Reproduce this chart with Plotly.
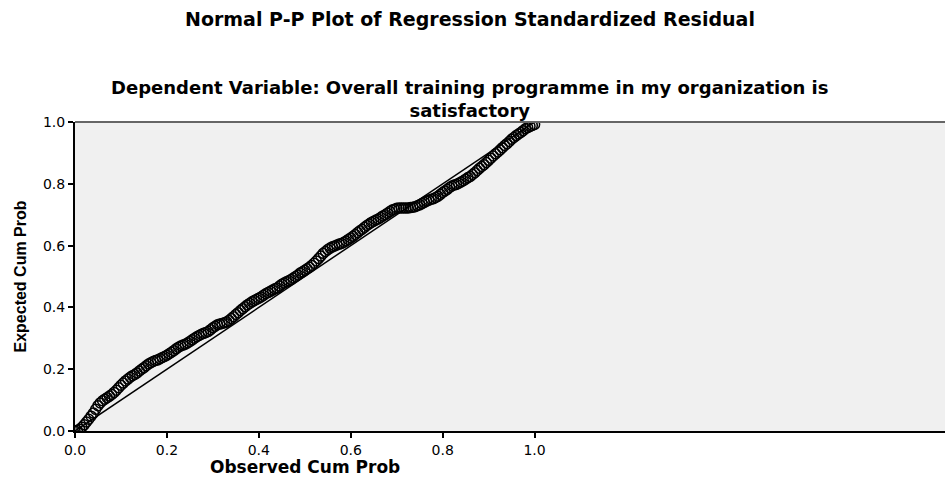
import plotly.graph_objects as go

# Observed cumulative probability (x) and expected cumulative probability (y)
observed_a = [
    0.00, 0.01, 0.02, 0.03, 0.04, 0.05, 0.06, 0.07, 0.08, 0.09,
    0.10, 0.11, 0.12, 0.13, 0.14, 0.15, 0.16, 0.17, 0.18, 0.19,
    0.20, 0.21, 0.22, 0.23, 0.24, 0.25, 0.26, 0.27, 0.28, 0.29,
    0.30, 0.31, 0.32, 0.33, 0.34, 0.35, 0.36, 0.37, 0.38, 0.39,
    0.40, 0.41, 0.42, 0.43, 0.44, 0.45, 0.46, 0.47, 0.48, 0.49,
    0.50, 0.51, 0.52, 0.53, 0.54, 0.55, 0.56, 0.57, 0.58, 0.59,
    0.60, 0.61, 0.62, 0.63, 0.64, 0.65, 0.66, 0.67, 0.68, 0.69,
    0.70, 0.71, 0.72, 0.73, 0.74, 0.75, 0.76, 0.77, 0.78, 0.79,
    0.80, 0.81, 0.82, 0.83, 0.84, 0.85, 0.86, 0.87, 0.88, 0.89,
    0.90, 0.91, 0.92, 0.93, 0.94, 0.95, 0.96, 0.97, 0.98, 0.99, 1.00,
]
expected_a = [
    0.000, 0.006, 0.020, 0.038, 0.058, 0.082, 0.098, 0.108, 0.118, 0.132,
    0.148, 0.162, 0.174, 0.183, 0.194, 0.205, 0.217, 0.225, 0.230, 0.238,
    0.245, 0.255, 0.266, 0.275, 0.281, 0.290, 0.300, 0.309, 0.316, 0.322,
    0.334, 0.344, 0.348, 0.353, 0.364, 0.377, 0.390, 0.402, 0.413, 0.422,
    0.430, 0.439, 0.448, 0.456, 0.463, 0.475, 0.483, 0.490, 0.500, 0.511,
    0.520, 0.530, 0.543, 0.558, 0.575, 0.587, 0.596, 0.602, 0.607, 0.615,
    0.625, 0.636, 0.648, 0.659, 0.670, 0.679, 0.686, 0.696, 0.705, 0.715,
    0.721, 0.722, 0.722, 0.723, 0.726, 0.732, 0.740, 0.747, 0.752, 0.760,
    0.772, 0.782, 0.793, 0.798, 0.806, 0.815, 0.824, 0.836, 0.850, 0.862,
    0.876, 0.890, 0.903, 0.917, 0.930, 0.944, 0.956, 0.966, 0.978, 0.986, 0.992,
]
observed_b = [
    0.005, 0.015, 0.025, 0.035, 0.045, 0.055, 0.065, 0.075, 0.085, 0.095,
    0.105, 0.115, 0.125, 0.135, 0.145, 0.155, 0.165, 0.175, 0.185, 0.195,
    0.205, 0.215, 0.225, 0.235, 0.245, 0.255, 0.265, 0.275, 0.285, 0.295,
    0.305, 0.315, 0.325, 0.335, 0.345, 0.355, 0.365, 0.375, 0.385, 0.395,
    0.405, 0.415, 0.425, 0.435, 0.445, 0.455, 0.465, 0.475, 0.485, 0.495,
    0.505, 0.515, 0.525, 0.535, 0.545, 0.555, 0.565, 0.575, 0.585, 0.595,
    0.605, 0.615, 0.625, 0.635, 0.645, 0.655, 0.665, 0.675, 0.685, 0.695,
    0.705, 0.715, 0.725, 0.735, 0.745, 0.755, 0.765, 0.775, 0.785, 0.795,
    0.805, 0.815, 0.825, 0.835, 0.845, 0.855, 0.865, 0.875, 0.885, 0.895,
    0.905, 0.915, 0.925, 0.935, 0.945, 0.955, 0.965, 0.975, 0.985, 0.995,
]
expected_b = [
    0.002, 0.012, 0.029, 0.048, 0.070, 0.091, 0.103, 0.113, 0.125, 0.140,
    0.155, 0.168, 0.179, 0.188, 0.200, 0.211, 0.221, 0.228, 0.234, 0.241,
    0.250, 0.260, 0.271, 0.278, 0.285, 0.295, 0.305, 0.313, 0.319, 0.328,
    0.339, 0.346, 0.350, 0.358, 0.370, 0.383, 0.396, 0.408, 0.418, 0.426,
    0.434, 0.444, 0.452, 0.460, 0.469, 0.479, 0.486, 0.495, 0.505, 0.515,
    0.525, 0.536, 0.550, 0.566, 0.581, 0.592, 0.599, 0.605, 0.611, 0.620,
    0.630, 0.642, 0.653, 0.665, 0.675, 0.683, 0.691, 0.700, 0.710, 0.718,
    0.722, 0.722, 0.722, 0.724, 0.729, 0.736, 0.744, 0.750, 0.756, 0.766,
    0.777, 0.788, 0.796, 0.802, 0.810, 0.820, 0.830, 0.843, 0.856, 0.869,
    0.883, 0.897, 0.910, 0.924, 0.937, 0.950, 0.961, 0.972, 0.982, 0.989,
]
reference_line_x = [0.0, 1.0]
reference_line_y = [0.0, 1.0]
tick_values = [0.0, 0.2, 0.4, 0.6, 0.8, 1.0]
tick_labels = ["0.0", "0.2", "0.4", "0.6", "0.8", "1.0"]

TITLE_FONT = "DejaVu Sans, Liberation Sans, Arial, sans-serif"

fig = go.Figure()
fig.add_trace(go.Scatter(
    x=reference_line_x, y=reference_line_y, mode="lines",
    line=dict(color="black", width=1.5), showlegend=False, hoverinfo="skip",
))
fig.add_trace(go.Scatter(
    x=observed_a + observed_b, y=expected_a + expected_b, mode="markers",
    marker=dict(symbol="circle-open", size=10, color="black", line=dict(width=1.5)),
    showlegend=False,
))

fig.update_layout(
    width=945, height=477,
    margin=dict(l=75, r=0, t=122, b=46),
    paper_bgcolor="white", plot_bgcolor="#f0f0f0",
    xaxis=dict(
        range=[0, 1.893], tickvals=tick_values, ticktext=tick_labels, automargin=False,
        showgrid=False, zeroline=False, showline=True, linecolor="black", linewidth=2,
        ticks="outside", ticklen=5, tickwidth=2, tickcolor="black",
        tickfont=dict(family=TITLE_FONT, size=14, color="black"),
    ),
    yaxis=dict(
        range=[0, 1], tickvals=tick_values, ticktext=tick_labels, automargin=False,
        showgrid=False, zeroline=False, showline=True, linecolor="black", linewidth=2,
        ticks="outside", ticklen=5, tickwidth=2, tickcolor="black",
        tickfont=dict(family=TITLE_FONT, size=14, color="black"),
    ),
    shapes=[dict(type="line", xref="paper", yref="paper", x0=0, x1=1, y0=1, y1=1,
                 line=dict(color="#666666", width=2))],
    annotations=[
        dict(text="<b>Normal P-P Plot of Regression Standardized Residual</b>",
             xref="paper", yref="paper", x=(470 - 75) / 870, y=1, xanchor="center", yanchor="middle",
             yshift=122 - 19, showarrow=False,
             font=dict(family=TITLE_FONT, size=19, color="black")),
        dict(text="<b>Dependent Variable: Overall training programme in my organization is"
                  "<br>satisfactory</b>",
             xref="paper", yref="paper", x=(470 - 75) / 870, y=1, xanchor="center", yanchor="middle",
             yshift=122 - 99, showarrow=False,
             font=dict(family=TITLE_FONT, size=18, color="black")),
        dict(text="<b>Observed Cum Prob</b>",
             xref="x", yref="paper", x=0.5, y=0, xanchor="center", yanchor="middle",
             yshift=-(467 - 431), showarrow=False,
             font=dict(family=TITLE_FONT, size=17, color="black")),
        dict(text="<b>Expected Cum Prob</b>",
             xref="paper", yref="paper", x=0, y=0.5, xanchor="center", yanchor="middle",
             xshift=-(75 - 20), textangle=-90, showarrow=False,
             font=dict(family="Liberation Sans Narrow, Liberation Sans, Arial, sans-serif",
                       size=16, color="black")),
    ],
)

fig.write_html(
    "out.html",
    config={"displayModeBar": False},
    post_script="document.body.style.margin='0';document.body.style.overflow='hidden';",
)
